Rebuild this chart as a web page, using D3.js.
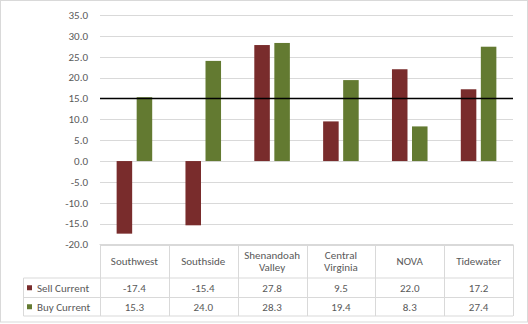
<!DOCTYPE html>
<html>
<head>
<meta charset="utf-8">
<script src="https://cdn.jsdelivr.net/npm/d3@7"></script>
<style>
  body { margin: 0; background: #fff; }
  svg text { font-family: Carlito, Lato, "Liberation Sans", sans-serif; fill: #595959; }
</style>
</head>
<body>
<svg id="chart" width="528" height="324"></svg>
<script>
'use strict';

var regions = [["Southwest"], ["Southside"], ["Shenandoah", "Valley"], ["Central", "Virginia"], ["NOVA"], ["Tidewater"]];
var seriesNames = ["Sell Current", "Buy Current"];
var sellCurrent = [-17.4, -15.4, 27.8, 9.5, 22.0, 17.2];
var buyCurrent = [15.3, 24.0, 28.3, 19.4, 8.3, 27.4];
var yTicks = [35, 30, 25, 20, 15, 10, 5, 0, -5, -10, -15, -20];
var refLine = 15;
var colors = ["#792c2c", "#637a31"];

function chart() {
    var svg = d3.select("#chart");
    var plotLeft = 100, plotRight = 513, plotTop = 15, plotBottom = 244.5;
    var tableTop = plotBottom, rowA = 278, rowB = 297.5, tableBottom = 316, legendLeft = 23.5;
    var fontSize = "11px";

    // plain hyphen for negatives, like the spreadsheet
    var fmt = d3.formatLocale({ decimal: ".", thousands: ",", grouping: [3], currency: ["$", ""], minus: "-" }).format(".1f");

    var series = [sellCurrent, buyCurrent];
    var keys = regions.map(function(d) { return d.join(" "); });

    var y = d3.scaleLinear().domain([-20, 35]).range([plotBottom, plotTop]);
    var x0 = d3.scaleBand().domain(keys).range([plotLeft, plotRight]).padding(0);
    var x1 = d3.scaleBand().domain(seriesNames).range([0, x0.bandwidth()])
        .paddingInner(0.225).paddingOuter(0.83);

    // outer chart border
    svg.append("rect")
        .attr("x", 0.5).attr("y", 0.5)
        .attr("width", 527).attr("height", 321.5)
        .attr("fill", "none").attr("stroke", "#d9d9d9");

    // gridlines
    svg.append("g")
        .selectAll("line")
        .data(yTicks)
        .enter().append("line")
        .attr("x1", plotLeft).attr("x2", plotRight)
        .attr("y1", function(d) { return Math.round(y(d)) + 0.5; })
        .attr("y2", function(d) { return Math.round(y(d)) + 0.5; })
        .style("stroke", "#d9d9d9")
        .style("stroke-width", 1);

    // y axis labels
    svg.append("g")
        .selectAll("text")
        .data(yTicks)
        .enter().append("text")
        .attr("x", 88)
        .attr("y", function(d) { return y(d); })
        .attr("dy", "0.35em")
        .attr("text-anchor", "end")
        .style("font-size", fontSize)
        .text(fmt);

    // bars
    var groups = svg.append("g")
        .selectAll("g")
        .data(keys)
        .enter().append("g")
        .attr("transform", function(d) { return "translate(" + x0(d) + ",0)"; });

    groups.selectAll("rect")
        .data(function(d, i) {
            return seriesNames.map(function(s, j) { return { name: s, value: series[j][i], idx: j }; });
        })
        .enter().append("rect")
        .attr("x", function(d) { return x1(d.name); })
        .attr("width", x1.bandwidth())
        .attr("y", function(d) { return y(Math.max(0, d.value)); })
        .attr("height", function(d) { return Math.abs(y(d.value) - y(0)); })
        .style("fill", function(d) { return colors[d.idx]; });

    // reference line
    svg.append("line")
        .attr("x1", plotLeft).attr("x2", plotRight)
        .attr("y1", y(refLine)).attr("y2", y(refLine))
        .style("stroke", "#000")
        .style("stroke-width", 1.5);

    // data table grid
    var table = svg.append("g").style("stroke", "#d9d9d9").style("stroke-width", 1);
    table.append("line").attr("x1", plotLeft - 0.5).attr("x2", plotRight).attr("y1", tableTop).attr("y2", tableTop);
    [rowA, rowB, tableBottom].forEach(function(yy) {
        table.append("line").attr("x1", legendLeft).attr("x2", plotRight).attr("y1", yy).attr("y2", yy);
    });
    table.append("line").attr("x1", legendLeft).attr("x2", legendLeft).attr("y1", rowA).attr("y2", tableBottom);
    keys.concat([null]).forEach(function(k) {
        var xx = k === null ? plotRight : x0(k);
        xx = Math.round(xx) + 0.5;
        table.append("line").attr("x1", xx).attr("x2", xx).attr("y1", tableTop).attr("y2", tableBottom);
    });

    // header cells
    var header = svg.append("g")
        .selectAll("text")
        .data(regions)
        .enter().append("text")
        .attr("x", function(d, i) { return x0(keys[i]) + x0.bandwidth() / 2; })
        .attr("text-anchor", "middle")
        .style("font-size", fontSize);

    header.each(function(d) {
        var t = d3.select(this);
        var mid = (tableTop + rowA) / 2;
        d.forEach(function(line, k) {
            t.append("tspan")
                .attr("x", t.attr("x"))
                .attr("y", mid + (k - (d.length - 1) / 2) * 12)
                .attr("dy", "0.35em")
                .text(line);
        });
    });

    // value rows with legend keys
    var rowMids = [(rowA + rowB) / 2, (rowB + tableBottom) / 2];
    series.forEach(function(vals, j) {
        svg.append("g")
            .selectAll("text")
            .data(vals)
            .enter().append("text")
            .attr("x", function(d, i) { return x0(keys[i]) + x0.bandwidth() / 2; })
            .attr("y", rowMids[j])
            .attr("dy", "0.35em")
            .attr("text-anchor", "middle")
            .style("font-size", fontSize)
            .text(fmt);

        svg.append("rect")
            .attr("x", 27).attr("y", rowMids[j] - 2.5)
            .attr("width", 5).attr("height", 5)
            .style("fill", colors[j]);

        svg.append("text")
            .attr("x", 37).attr("y", rowMids[j])
            .attr("dy", "0.35em")
            .style("font-size", fontSize)
            .text(seriesNames[j]);
    });
}

chart();
</script>
</body>
</html>
